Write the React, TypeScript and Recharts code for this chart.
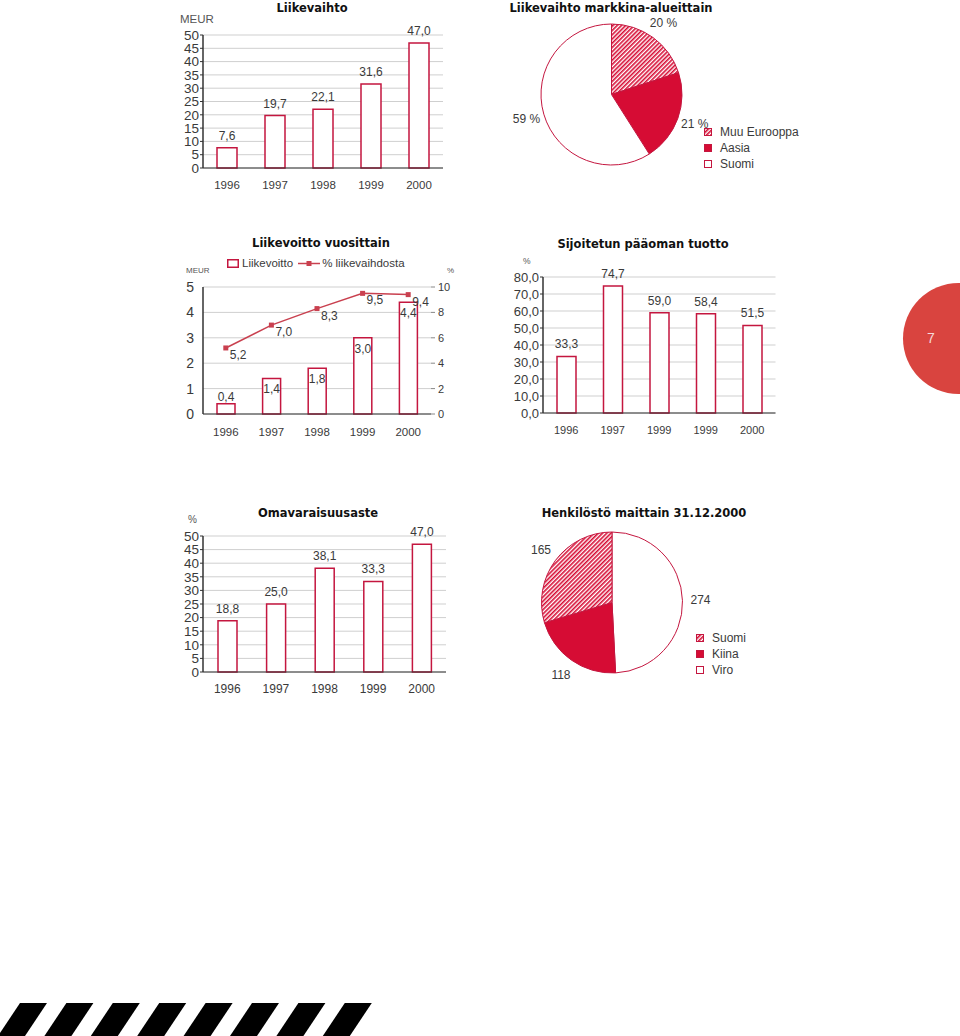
import React from 'react';
import {
  BarChart,
  Bar,
  ComposedChart,
  Line,
  XAxis,
  YAxis,
  CartesianGrid,
  LabelList,
  PieChart,
  Pie,
  Cell,
} from 'recharts';

// --- data ---
const years = ['1996', '1997', '1998', '1999', '2000'];
const liikevaihto = [7.6, 19.7, 22.1, 31.6, 47.0];
const liikevoitto = [0.4, 1.4, 1.8, 3.0, 4.4];
const liikevoittoPct = [5.2, 7.0, 8.3, 9.5, 9.4];
const roiYears = ['1996', '1997', '1999', '1999', '2000'];
const roiValues = [33.3, 74.7, 59.0, 58.4, 51.5];
const omavaraisuus = [18.8, 25.0, 38.1, 33.3, 47.0];

const marketNames = ['Muu Eurooppa', 'Aasia', 'Suomi'];
const marketShares = [20, 21, 59];
const staffNames = ['Viro', 'Kiina', 'Suomi'];
const staffCounts = [274, 118, 165];
const staffLegend = ['Suomi', 'Kiina', 'Viro'];

const ticks50 = [0, 5, 10, 15, 20, 25, 30, 35, 40, 45, 50];
const ticks80 = [0, 10, 20, 30, 40, 50, 60, 70, 80];
const ticks5 = [0, 1, 2, 3, 4, 5];
const ticks10 = [0, 2, 4, 6, 8, 10];

// --- styles ---
const FONT = '"Liberation Sans", Arial, sans-serif';
const TITLE_FONT = '"DejaVu Sans", sans-serif';
const RED = '#c4163f';
const PIE_RED = '#d60c34';
const LINE_RED = '#c9404f';
const GRID = '#cfcfcf';
const AXIS = '#333';
const TEXT = '#3a3a3a';
const HATCH = 'url(#hatch)';

const fillFor: Record<string, string> = {
  'Muu Eurooppa': HATCH,
  Aasia: PIE_RED,
  Suomi: '#fff',
};
const staffFill: Record<string, string> = {
  Suomi: HATCH,
  Kiina: PIE_RED,
  Viro: '#fff',
};

const fmt = (v: any) => Number(v).toFixed(1).replace('.', ',');

const revenueData = years.map((cat, i) => ({ cat, value: liikevaihto[i] }));
const profitData = years.map((cat, i) => ({ cat, value: liikevoitto[i], pct: liikevoittoPct[i] }));
const roiData = roiYears.map((cat, i) => ({ cat, value: roiValues[i] }));
const equityData = years.map((cat, i) => ({ cat, value: omavaraisuus[i] }));
const marketData = marketNames.map((name, i) => ({ name, value: marketShares[i] }));
const staffData = staffNames.map((name, i) => ({ name, value: staffCounts[i] }));

function Title({ text, cx, cy }: { text: string; cx: number; cy: number }) {
  return (
    <div
      style={{
        position: 'absolute',
        left: cx - 150,
        top: Math.max(0, cy - 8),
        width: 300,
        lineHeight: '16px',
        textAlign: 'center',
        fontFamily: TITLE_FONT,
        fontWeight: 'bold',
        fontSize: 11.5,
        color: '#111',
      }}
    >
      {text}
    </div>
  );
}

function Note({ text, x, cy, size }: { text: string; x: number; cy: number; size: number }) {
  return (
    <div style={{ position: 'absolute', left: x, top: cy - 7, lineHeight: '14px', fontSize: size, color: '#555' }}>
      {text}
    </div>
  );
}

type BarsProps = {
  data: { cat: string; value: number }[];
  left: number;
  top: number;
  width: number;
  height: number;
  mTop: number;
  mRight: number;
  yWidth: number;
  xHeight: number;
  tickMargin: number;
  domain: [number, number];
  ticks: number[];
  yFmt?: (v: any) => string;
  barSize: number;
  labelOffset: number;
  xFont: number;
  yFont: number;
};

function SimpleBars(p: BarsProps) {
  return (
    <div style={{ position: 'absolute', left: p.left, top: p.top }}>
      <BarChart
        width={p.width}
        height={p.height}
        data={p.data}
        margin={{ top: p.mTop, right: p.mRight, bottom: 0, left: 0 }}
      >
        <CartesianGrid vertical={false} stroke={GRID} />
        <XAxis
          dataKey="cat"
          height={p.xHeight}
          interval={0}
          tickLine={false}
          tickSize={0}
          tickMargin={p.tickMargin}
          axisLine={{ stroke: AXIS }}
          tick={{ fill: TEXT, fontSize: p.xFont }}
        />
        <YAxis
          width={p.yWidth}
          domain={p.domain}
          ticks={p.ticks}
          interval={0}
          tickFormatter={p.yFmt}
          tickSize={3}
          tickMargin={1}
          tickLine={{ stroke: AXIS }}
          axisLine={{ stroke: AXIS, strokeWidth: 1.5 }}
          tick={{ fill: TEXT, fontSize: p.yFont }}
        />
        <Bar dataKey="value" fill="#fff" stroke={RED} strokeWidth={1.5} barSize={p.barSize} isAnimationActive={false}>
          <LabelList dataKey="value" position="top" offset={p.labelOffset} formatter={fmt} fill={TEXT} fontSize={12} />
        </Bar>
      </BarChart>
    </div>
  );
}

function box(props: any) {
  const vb = props.viewBox && props.viewBox.x != null ? props.viewBox : props;
  return { x: Number(vb.x), y: Number(vb.y), width: Number(vb.width || 0), height: Number(vb.height || 0) };
}

// bar labels sit inside the bar top unless the bar is too short
const profitBarLabel = (props: any) => {
  const b = box(props);
  const inside = b.height > 16;
  return (
    <text
      x={b.x + b.width / 2}
      y={inside ? b.y + 15 : b.y - 3}
      textAnchor="middle"
      fill={TEXT}
      fontSize={12}
    >
      {fmt(props.value)}
    </text>
  );
};

const pctLabel = (props: any) => {
  const b = box(props);
  return (
    <text x={b.x + 4} y={b.y + 11} textAnchor="start" fill={TEXT} fontSize={12}>
      {fmt(props.value)}
    </text>
  );
};

const squareDot = (props: any) => (
  <rect key={`d${props.index}`} x={props.cx - 2.5} y={props.cy - 2.5} width={5} height={5} fill={LINE_RED} />
);

const RAD = Math.PI / 180;
function pieLabel(suffix: string) {
  return (props: any) => {
    const { cx, cy, midAngle, outerRadius, value } = props;
    const r = outerRadius + 18;
    const x = cx + r * Math.cos(-midAngle * RAD);
    const y = cy + r * Math.sin(-midAngle * RAD);
    return (
      <text x={x} y={y} textAnchor="middle" dominantBaseline="central" fill={TEXT} fontSize={12}>
        {value}
        {suffix}
      </text>
    );
  };
}

function PieLegend({ names, fills, left, top, gap }: { names: string[]; fills: Record<string, string>; left: number; top: number; gap: number }) {
  return (
    <div style={{ position: 'absolute', left, top }}>
      {names.map((n) => (
        <div key={n} style={{ display: 'flex', alignItems: 'center', height: 16, fontSize: 12, color: TEXT }}>
          <svg width={8} height={8} style={{ marginRight: gap }}>
            <rect x={0.5} y={0.5} width={7} height={7} fill={fills[n]} stroke={RED} strokeWidth={1} />
          </svg>
          {n}
        </div>
      ))}
    </div>
  );
}

function Stripes() {
  const polys = [0, 1, 2, 3, 4, 5, 6, 7].map((k) => {
    const tl = 20 + 46.4 * k;
    return `${tl},0 ${tl + 27},0 ${tl + 5},33 ${tl - 22},33`;
  });
  return (
    <svg width={400} height={33} style={{ position: 'absolute', left: 0, top: 1003 }}>
      {polys.map((p, i) => (
        <polygon key={i} points={p} fill="#000" />
      ))}
    </svg>
  );
}

export default function App() {
  return (
    <div
      style={{
        position: 'absolute',
        left: 0,
        top: 0,
        width: 960,
        height: 1036,
        overflow: 'hidden',
        background: '#fff',
        fontFamily: FONT,
        color: TEXT,
      }}
    >
      <svg width={0} height={0} style={{ position: 'absolute' }}>
        <defs>
          <pattern id="hatch" width={3} height={3} patternUnits="userSpaceOnUse" patternTransform="rotate(45)">
            <rect width={3} height={3} fill="#fff" />
            <rect width={1.6} height={3} fill={PIE_RED} />
          </pattern>
        </defs>
      </svg>

      {/* Liikevaihto */}
      <Title text="Liikevaihto" cx={312} cy={7} />
      <Note text="MEUR" x={180} cy={19} size={11.5} />
      <SimpleBars
        data={revenueData}
        left={170}
        top={0}
        width={290}
        height={200}
        mTop={35}
        mRight={17}
        yWidth={33}
        xHeight={32}
        tickMargin={13}
        domain={[0, 50]}
        ticks={ticks50}
        barSize={20}
        labelOffset={8}
        xFont={11.5}
        yFont={13.5}
      />

      {/* Liikevaihto markkina-alueittain */}
      <Title text="Liikevaihto markkina-alueittain" cx={611} cy={7} />
      <div style={{ position: 'absolute', left: 500, top: 10 }}>
        <PieChart width={230} height={170} margin={{ top: 0, right: 0, bottom: 0, left: 0 }}>
          <Pie
            data={marketData}
            dataKey="value"
            nameKey="name"
            cx={111.5}
            cy={84.5}
            outerRadius={70.5}
            startAngle={90}
            endAngle={-270}
            stroke={RED}
            strokeWidth={1}
            labelLine={false}
            label={pieLabel(' %')}
            isAnimationActive={false}
          >
            {marketData.map((d) => (
              <Cell key={d.name} fill={fillFor[d.name]} />
            ))}
          </Pie>
        </PieChart>
      </div>
      <PieLegend names={marketNames} fills={fillFor} left={704} top={124} gap={8} />

      {/* Liikevoitto vuosittain */}
      <Title text="Liikevoitto vuosittain" cx={321} cy={243} />
      <div style={{ position: 'absolute', left: 227, top: 255, display: 'flex', alignItems: 'center', fontSize: 11.5, color: TEXT, height: 16 }}>
        <svg width={12} height={9} style={{ marginRight: 3 }}>
          <rect x={0.75} y={0.75} width={10.5} height={7.5} fill="#fff" stroke={RED} strokeWidth={1.5} />
        </svg>
        <span style={{ marginRight: 5 }}>Liikevoitto</span>
        <svg width={22} height={9} style={{ marginRight: 2 }}>
          <line x1={0} y1={4.5} x2={22} y2={4.5} stroke={LINE_RED} strokeWidth={1.5} />
          <rect x={8.5} y={2} width={5} height={5} fill={LINE_RED} />
        </svg>
        <span>% liikevaihdosta</span>
      </div>
      <Note text="MEUR" x={186} cy={271} size={8} />
      <Note text="%" x={447} cy={271} size={8} />
      <div style={{ position: 'absolute', left: 180, top: 230 }}>
        <ComposedChart width={290} height={220} data={profitData} margin={{ top: 57, right: 0, bottom: 0, left: 0 }}>
          <CartesianGrid vertical={false} stroke={GRID} yAxisId="l" />
          <XAxis
            dataKey="cat"
            height={36}
            interval={0}
            tickLine={false}
            tickSize={0}
            tickMargin={14}
            axisLine={{ stroke: AXIS }}
            tick={{ fill: TEXT, fontSize: 11.5 }}
          />
          <YAxis
            yAxisId="l"
            width={23}
            domain={[0, 5]}
            ticks={ticks5}
            interval={0}
            tickLine={false}
            tickSize={0}
            tickMargin={9}
            axisLine={{ stroke: AXIS, strokeWidth: 1.5 }}
            tick={{ fill: TEXT, fontSize: 14 }}
          />
          <YAxis
            yAxisId="r"
            orientation="right"
            width={39}
            domain={[0, 10]}
            ticks={ticks10}
            interval={0}
            axisLine={false}
            tickSize={4}
            tickMargin={3}
            tickLine={{ stroke: '#888' }}
            tick={{ fill: TEXT, fontSize: 11 }}
          />
          <Bar yAxisId="l" dataKey="value" fill="#fff" stroke={RED} strokeWidth={1.5} barSize={18} isAnimationActive={false}>
            <LabelList dataKey="value" content={profitBarLabel} />
          </Bar>
          <Line
            yAxisId="r"
            type="linear"
            dataKey="pct"
            stroke={LINE_RED}
            strokeWidth={1.5}
            dot={squareDot}
            activeDot={false}
            isAnimationActive={false}
          >
            <LabelList dataKey="pct" content={pctLabel} />
          </Line>
        </ComposedChart>
      </div>

      {/* Sijoitetun pääoman tuotto */}
      <Title text="Sijoitetun pääoman tuotto" cx={643} cy={244} />
      <Note text="%" x={523} cy={261} size={8.5} />
      <SimpleBars
        data={roiData}
        left={500}
        top={230}
        width={290}
        height={220}
        mTop={47}
        mRight={14.5}
        yWidth={43}
        xHeight={37}
        tickMargin={13}
        domain={[0, 80]}
        ticks={ticks80}
        yFmt={fmt}
        barSize={19}
        labelOffset={8}
        xFont={11}
        yFont={13}
      />

      {/* Omavaraisuusaste */}
      <Title text="Omavaraisuusaste" cx={318} cy={513} />
      <Note text="%" x={188} cy={520} size={10} />
      <SimpleBars
        data={equityData}
        left={170}
        top={500}
        width={290}
        height={200}
        mTop={36}
        mRight={14}
        yWidth={33}
        xHeight={28}
        tickMargin={12}
        domain={[0, 50]}
        ticks={ticks50}
        barSize={19}
        labelOffset={8}
        xFont={12}
        yFont={13.5}
      />

      {/* Henkilöstö maittain */}
      <Title text="Henkilöstö maittain 31.12.2000" cx={644} cy={513} />
      <div style={{ position: 'absolute', left: 500, top: 520 }}>
        <PieChart width={230} height={170} margin={{ top: 0, right: 0, bottom: 0, left: 0 }}>
          <Pie
            data={staffData}
            dataKey="value"
            nameKey="name"
            cx={112}
            cy={82.5}
            outerRadius={70.5}
            startAngle={90}
            endAngle={-270}
            stroke={RED}
            strokeWidth={1}
            labelLine={false}
            label={pieLabel('')}
            isAnimationActive={false}
          >
            {staffData.map((d) => (
              <Cell key={d.name} fill={staffFill[d.name]} />
            ))}
          </Pie>
        </PieChart>
      </div>
      <PieLegend names={staffLegend} fills={staffFill} left={696} top={630} gap={8} />

      {/* page number */}
      <div
        style={{
          position: 'absolute',
          left: 903,
          top: 283,
          width: 111,
          height: 111,
          borderRadius: '50%',
          background: '#d9443f',
        }}
      >
        <div style={{ position: 'absolute', left: 24, top: 47, fontSize: 14, color: '#f6dada' }}>7</div>
      </div>

      <Stripes />
    </div>
  );
}
